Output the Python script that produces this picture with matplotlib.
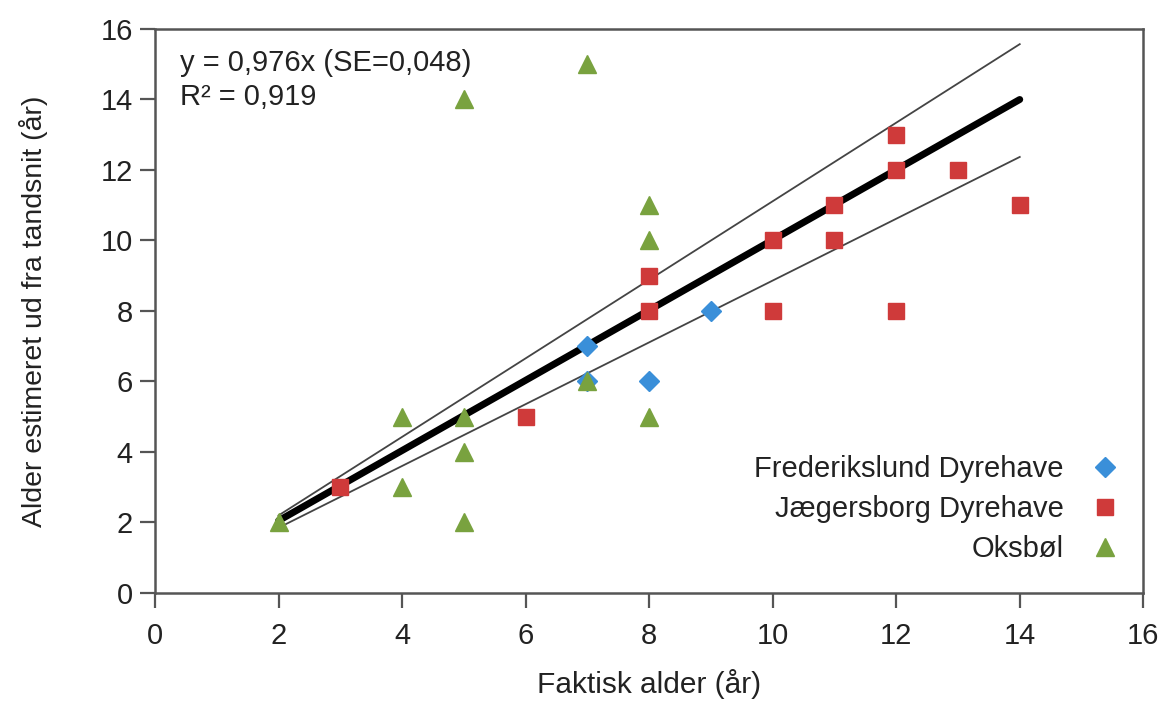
import numpy as np
import matplotlib.pyplot as plt

plt.rcParams['font.family'] = ['Liberation Sans', 'DejaVu Sans']

# Frederikslund Dyrehave
fred_x = [7, 7, 8, 9]
fred_y = [7, 6, 6, 8]
# Jægersborg Dyrehave
jaeg_x = [3, 6, 8, 8, 10, 10, 11, 11, 12, 12, 12, 13, 14]
jaeg_y = [3, 5, 9, 8, 10, 8, 11, 10, 13, 12, 8, 12, 11]
# Oksbøl
oks_x = [2, 4, 4, 5, 5, 5, 5, 7, 7, 8, 8, 8]
oks_y = [2, 5, 3, 14, 5, 4, 2, 15, 6, 11, 10, 5]

# regressionslinje og grænser (aflæst)
line_x = [2, 14]
fit_y = [2.05, 14.0]
upper_y = [2.2, 15.57]
lower_y = [1.85, 12.37]

xticks = np.arange(0, 17, 2)
yticks = np.arange(0, 17, 2)

fig = plt.figure(figsize=(11.64, 7.02), dpi=100)
ax = fig.add_axes([0.1332, 0.1553, 0.849, 0.8034])

ax.plot(line_x, upper_y, color='#444444', lw=1.3, zorder=2)
ax.plot(line_x, lower_y, color='#444444', lw=1.3, zorder=2)
ax.plot(line_x, fit_y, color='black', lw=5, solid_capstyle='round', zorder=2)

ax.plot(fred_x, fred_y, 'D', color='#3A8FD9', ms=10.5, ls='none',
        label='Frederikslund Dyrehave', zorder=3)
ax.plot(jaeg_x, jaeg_y, 's', color='#CF3A3A', ms=11, ls='none',
        label='Jægersborg Dyrehave', zorder=3)
ax.plot(oks_x, oks_y, '^', color='#79A23F', ms=13, ls='none',
        label='Oksbøl', zorder=3)

ax.set_xlim(0, 16)
ax.set_ylim(0, 16)
ax.set_xticks(xticks)
ax.set_yticks(yticks)
ax.tick_params(labelsize=21, length=11, width=1.6, color='#555555',
               labelcolor='#222222', direction='out')
ax.tick_params(axis='x', pad=10)
ax.tick_params(axis='y', pad=5)
for s in ax.spines.values():
    s.set_color('#555555')
    s.set_linewidth(1.8)

ax.set_xlabel('Faktisk alder (år)', fontsize=21.5, color='#222222')
ax.set_ylabel('Alder estimeret ud fra tandsnit (år)', fontsize=20.5,
              color='#222222')
ax.xaxis.set_label_coords(0.5, -0.134)
ax.yaxis.set_label_coords(-0.108, 0.5)

ax.text(0.025, 0.91, 'y = 0,976x (SE=0,048)\nR² = 0,919', transform=ax.transAxes,
        fontsize=21, va='center', ha='left', color='#222222', linespacing=1.25)

leg = ax.legend(loc='lower right', frameon=False, markerfirst=False, fontsize=21,
                handletextpad=0.4, labelspacing=0.40, bbox_to_anchor=(1.017, 0.007),
                alignment='right')
for t in leg.get_texts():
    t.set_ha('right')
    t.set_color('#222222')

fig.savefig('out.png', dpi=100)
